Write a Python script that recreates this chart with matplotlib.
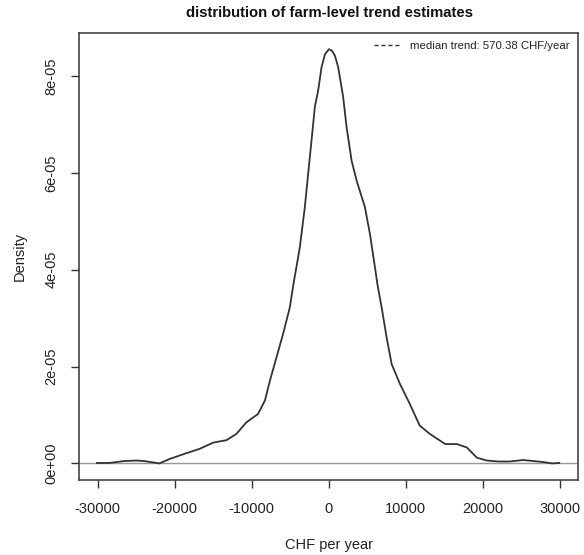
import matplotlib.pyplot as plt
from matplotlib.lines import Line2D

plt.rcParams['font.family'] = ['Liberation Sans', 'DejaVu Sans']

# density estimate (x in CHF per year, y in 1e-05)
trend_x = [-30100, -28500, -27500, -26500, -25000, -24000, -23200, -22000,
           -20700, -18900, -16800, -15000, -13300, -12000, -10700, -9200,
           -8300, -7650, -6800, -5950, -5070, -4600, -3770, -3120, -2690,
           -2250, -1820, -1390, -950, -500, 0, 400, 780, 1210, 1860, 2300,
           2950, 3600, 4680, 5330, 5980, 6300, 6850, 7500, 8150, 9230,
           10500, 11800, 13100, 15100, 16600, 17900, 19200, 20500, 22000,
           23500, 25200, 26500, 27800, 29000, 29900]
density = [0.01, 0.01, 0.03, 0.05, 0.06, 0.05, 0.03, 0.0,
           0.09, 0.19, 0.30, 0.43, 0.48, 0.61, 0.85, 1.02,
           1.30, 1.71, 2.19, 2.67, 3.22, 3.70, 4.46, 5.29, 5.98,
           6.67, 7.36, 7.70, 8.18, 8.45, 8.55, 8.52, 8.42, 8.18, 7.56, 6.94,
           6.25, 5.84, 5.29, 4.74, 4.05, 3.70, 3.22, 2.60, 2.05, 1.64,
           1.23, 0.78, 0.61, 0.40, 0.40, 0.33, 0.12, 0.06, 0.04,
           0.04, 0.07, 0.05, 0.03, 0.0, 0.01]
density = [d * 1e-05 for d in density]

x_ticks = [-30000, -20000, -10000, 0, 10000, 20000, 30000]
y_ticks = [0, 2e-05, 4e-05, 6e-05, 8e-05]
y_labels = ["0e+00", "2e-05", "4e-05", "6e-05", "8e-05"]
median_trend = 570.38

W, H = 584, 555
fig = plt.figure(figsize=(W / 100, H / 100), dpi=100)
ax = fig.add_axes([78.5 / W, 1 - 480 / H, (577.7 - 78.5) / W, (480 - 32.7) / H])

ax.axhline(0, color="#9a9a9a", lw=1.0, zorder=1)
ax.plot(trend_x, density, color="#333333", lw=1.3, zorder=2)

# R style 4% padding
xr = max(trend_x) - min(trend_x)
ax.set_xlim(min(trend_x) - 0.04 * xr, max(trend_x) + 0.04 * xr)
yr = max(density)
ax.set_ylim(-0.04 * yr, 1.04 * yr)

ax.set_xticks(x_ticks)
ax.set_xticklabels([str(t) for t in x_ticks])
ax.set_yticks(y_ticks)
ax.set_yticklabels(y_labels, rotation=90, va="center")
ax.tick_params(axis="both", labelsize=10.5, length=6, width=1, color="#333333", labelcolor="#222222")
ax.tick_params(axis="x", pad=9.5)
ax.tick_params(axis="y", pad=8.5)
for s in ax.spines.values():
    s.set_color("#444444")
    s.set_linewidth(1.2)

fig.text(329 / W, 1 - 13 / H, "distribution of farm-level trend estimates",
         ha="center", va="center", fontsize=10.7, fontweight="bold", color="#111111")
fig.text(329 / W, 1 - 545 / H, "CHF per year", ha="center", va="center",
         fontsize=10.5, color="#222222")
fig.text(20 / W, 1 - 256 / H, "Density", ha="center", va="center",
         rotation=90, fontsize=10.5, color="#222222")

handle = Line2D([], [], color="#333333", lw=1.0, ls=(0, (3, 2)))
ax.legend([handle], ["median trend: %.2f CHF/year" % median_trend], loc="upper right",
          frameon=False, fontsize=8.2, handlelength=2.2, handletextpad=1.0,
          borderaxespad=0.3, labelcolor="#222222")

fig.savefig("out.png", dpi=100)
